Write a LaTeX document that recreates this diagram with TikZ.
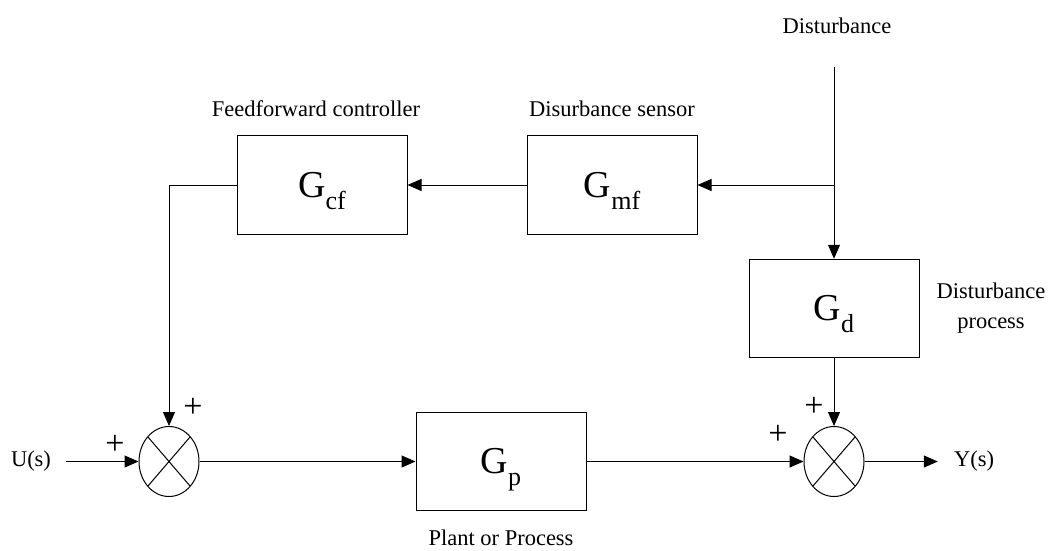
\documentclass[tikz,border=0pt]{standalone}
\usepackage{fontspec}
\setmainfont{LiberationSerif}[Extension=.ttf, UprightFont=*-Regular, BoldFont=*-Bold, ItalicFont=*-Italic]
\usetikzlibrary{arrows.meta,shapes.geometric,calc}
\tikzset{
  blk/.style={draw, line width=1pt, minimum width=170pt, minimum height=98.5pt, inner sep=0pt},
  sumj/.style={draw, ellipse, line width=1pt, minimum width=60pt, minimum height=70pt, inner sep=0pt},
  lbl/.style={font=\fontsize{22.5}{25}\selectfont, inner sep=0pt, anchor=base},
  pls/.style={font=\fontsize{34}{34}\selectfont, inner sep=0pt},
  gtxt/.style={inner sep=0pt, anchor=base},
  conn/.style={line width=1pt},
  arr/.style={conn, -{Triangle[length=14pt,width=12pt]}}
}
\newcommand{\gsym}[1]{{\fontsize{38}{40}\selectfont G\raisebox{-12pt}{\fontsize{26}{28}\selectfont #1}}}
\begin{document}
\begin{tikzpicture}[x=1pt,y=-1pt]
\useasboundingbox (0,0) rectangle (1052,550);
% blocks
\node[blk] (gcf) at (322,185) {};
\node[blk] (gmf) at (612,185) {};
\node[blk] (gd) at (834,308.5) {};
\node[blk] (gp) at (501,461.5) {};
\node[gtxt] (tcf) at (322,197) {\gsym{cf}};
\node[gtxt] (tmf) at (612,197) {\gsym{mf}};
\node[gtxt] (td) at (834,320) {\gsym{d}};
\node[gtxt] (tp) at (501,473) {\gsym{p}};
% summing junctions
\node[sumj] (s1) at (169,461.5) {};
\node[sumj] (s2) at (834,461.5) {};
\draw[conn] ($(s1)+(-21.2,-24.7)$) -- ($(s1)+(21.2,24.7)$);
\draw[conn] ($(s1)+(-21.2,24.7)$) -- ($(s1)+(21.2,-24.7)$);
\draw[conn] ($(s2)+(-21.2,-24.7)$) -- ($(s2)+(21.2,24.7)$);
\draw[conn] ($(s2)+(-21.2,24.7)$) -- ($(s2)+(21.2,-24.7)$);
% labels
\node[lbl] (lff) at (316,116.5) {Feedforward controller};
\node[lbl] (lds) at (612,116.5) {Disurbance sensor};
\node[lbl] (ldist) at (837,33) {Disturbance};
\node[lbl] (ldp1) at (991,298) {Disturbance};
\node[lbl] (ldp2) at (991,328) {process};
\node[lbl] (lpp) at (501,545) {Plant or Process};
\node[font=\fontsize{22.5}{25}\selectfont, inner xsep=15pt, inner ysep=3pt] (U) at (31,461.5) {U(s)};
\node[font=\fontsize{22.5}{25}\selectfont, inner xsep=16pt, inner ysep=3pt] (Y) at (974,461.5) {Y(s)};
% plus signs
\node[pls] (p1) at (115,445) {+};
\node[pls] (p2) at (193,408) {+};
\node[pls] (p3) at (778,435) {+};
\node[pls] (p4) at (814,407) {+};
% connectors
\coordinate (dtop) at (834,67);
\coordinate (br) at (834,185);
\draw[conn] (dtop) -- (br);
\draw[arr] (br) -- (gd.north);
\draw[arr] (br) -- (gmf.east);
\draw[arr] (gmf.west) -- (gcf.east);
\draw[arr] (gcf.west) -| (s1.north);
\draw[arr] (U.east) -- (s1.west);
\draw[arr] (s1.east) -- (gp.west);
\draw[arr] (gp.east) -- (s2.west);
\draw[arr] (gd.south) -- (s2.north);
\draw[arr] (s2.east) -- (Y.west);
\end{tikzpicture}
\end{document}
